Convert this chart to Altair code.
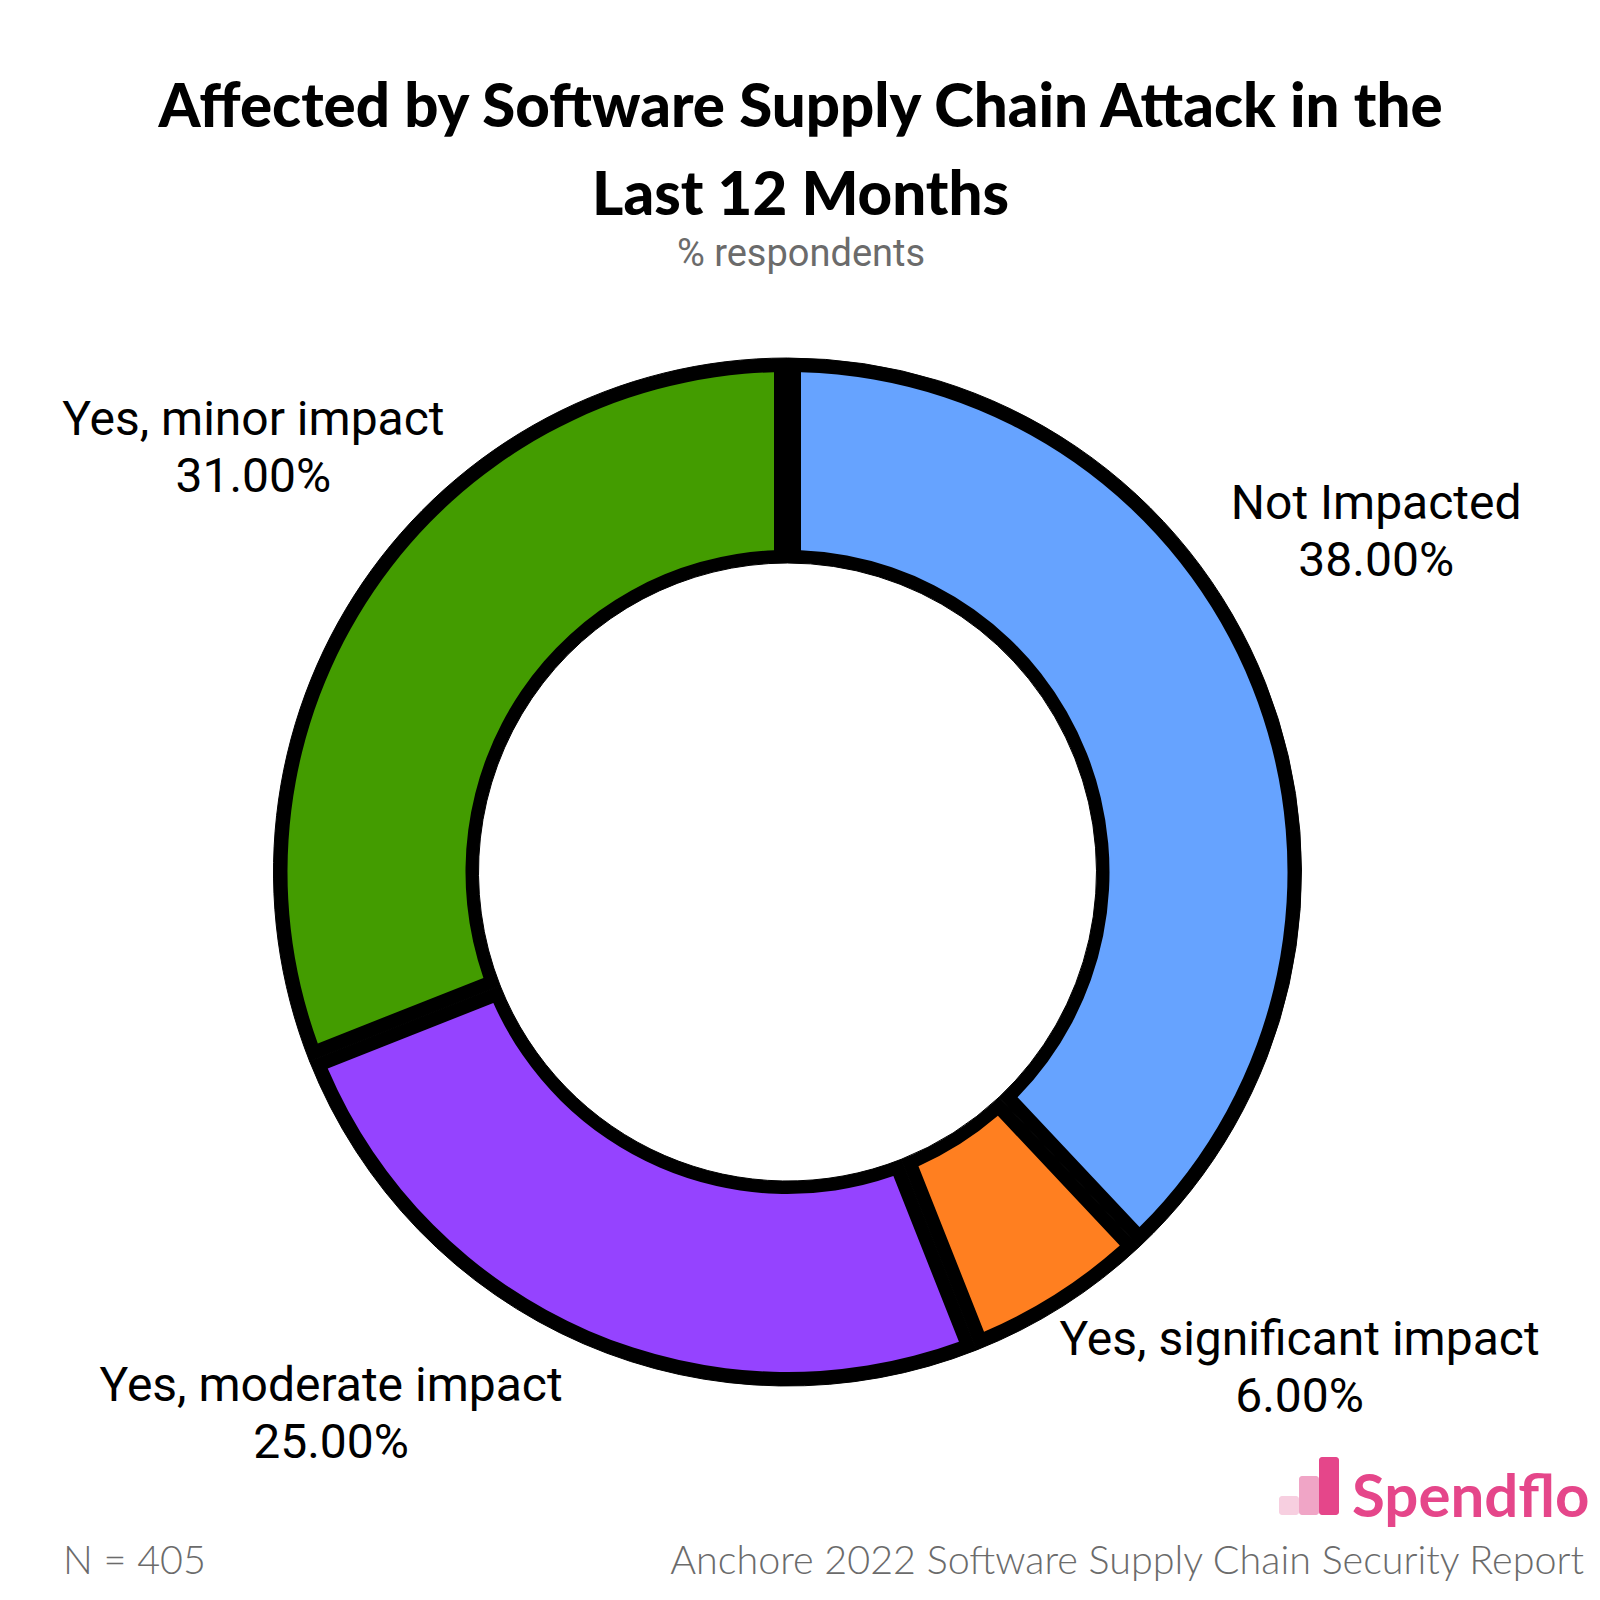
import altair as alt
import pandas as pd

# ---- data ----
categories = ["Not Impacted", "Yes, significant impact", "Yes, moderate impact", "Yes, minor impact"]
values = [38.0, 6.0, 25.0, 31.0]
slice_order = [0, 1, 2, 3]
palette = ["#66A3FF", "#FF7F20", "#9543FF", "#439C00"]

title_lines = ["Affected by Software Supply Chain Attack in the", "Last 12 Months"]
subtitle_text = ["% respondents"]
note_left = ["N = 405"]
note_right = ["Anchore 2022 Software Supply Chain Security Report"]
brand_text = ["Spendflo"]

df = pd.DataFrame({"Category": categories, "Value": values, "Order": slice_order})

W = H = 1584
CX, CY = 779.5, 864
THETA_SCALE = alt.Scale(domain=[0, 100])

base = alt.Chart(df)

ring = base.mark_arc(radius=514, innerRadius=309, color="black", stroke="black", strokeWidth=1).encode(
    theta=alt.Theta("Value:Q", stack=True, scale=THETA_SCALE),
    order=alt.Order("Order:Q"),
    x=alt.value(CX), y=alt.value(CY),
)

slices = base.mark_arc(radius=500, innerRadius=322, padAngle=0.0454).encode(
    theta=alt.Theta("Value:Q", stack=True, scale=THETA_SCALE),
    order=alt.Order("Order:Q"),
    color=alt.Color("Category:N", scale=alt.Scale(domain=categories, range=palette), legend=None),
    x=alt.value(CX), y=alt.value(CY),
)

# label offsets (layout only)
offsets = {
    "Not Impacted": (68, -161),
    "Yes, significant impact": (212, -4),
    "Yes, moderate impact": (-234, 1),
    "Yes, minor impact": (-71, -136),
}

label_base = base.transform_window(
    cum="sum(Value)", sort=[alt.SortField("Order")], frame=[None, 0]
).transform_calculate(
    mid="datum.cum - datum.Value / 2",
    label="datum.Category + '\\n' + format(datum.Value, '.2f') + '%'",
)

label_layers = []
for cat in categories:
    dx, dy = offsets[cat]
    label_layers.append(
        label_base.transform_filter(alt.datum.Category == cat).mark_text(
            radius=560, dx=dx, dy=dy, font="Roboto", fontSize=48, lineHeight=57,
            lineBreak="\n", align="center", baseline="middle", color="black",
        ).encode(
            theta=alt.Theta("mid:Q", stack=None, scale=THETA_SCALE),
            text="label:N",
            x=alt.value(CX), y=alt.value(CY),
        )
    )

def text_layer(lst, x, y, **kw):
    return alt.Chart(pd.DataFrame({"t": lst})).mark_text(**kw).encode(
        text="t:N", x=alt.value(x), y=alt.value(y)
    )

title1 = text_layer([title_lines[0]], 792.6, 119, font="Lato", fontSize=60, fontWeight=900,
                    align="center", baseline="alphabetic", color="black")
title2 = text_layer([title_lines[1]], 792.6, 207, font="Lato", fontSize=60, fontWeight=900,
                    align="center", baseline="alphabetic", color="black")
subtitle = text_layer(subtitle_text, 793, 258, font="Roboto", fontSize=38,
                      align="center", baseline="alphabetic", color="#6B6B6B")
foot_l = text_layer(note_left, 55, 1566, font="Lato", fontSize=39.5, fontWeight=300,
                    align="left", baseline="alphabetic", color="#6B6B6B")
foot_r = text_layer(note_right, 1576, 1566, font="Lato", fontSize=39.5, fontWeight=300,
                    align="right", baseline="alphabetic", color="#6B6B6B")
brand = text_layer(brand_text, 1344, 1509, font="Lato", fontSize=60, fontWeight=700,
                   align="left", baseline="alphabetic", color="#E5468A")

dummy = alt.Chart(pd.DataFrame({"d": [0]}))
bar1 = dummy.mark_rect(color="#F7CFE0", cornerRadius=3).encode(
    x=alt.value(1271), x2=alt.value(1291), y=alt.value(1488), y2=alt.value(1507))
bar2 = dummy.mark_rect(color="#F0A5C6", cornerRadius=3).encode(
    x=alt.value(1291), x2=alt.value(1311), y=alt.value(1468), y2=alt.value(1507))
bar3 = dummy.mark_rect(color="#E5468A", cornerRadius=3).encode(
    x=alt.value(1311), x2=alt.value(1331), y=alt.value(1449), y2=alt.value(1507))

chart = alt.layer(
    ring, slices, *label_layers, title1, title2, subtitle, foot_l, foot_r, brand, bar1, bar2, bar3
).properties(
    width=W, height=H, padding=0, autosize=alt.AutoSizeParams(type="none"),
    background="white",
).configure_view(stroke=None)

chart.save("out.html", embed_options={"renderer": "svg", "actions": False})
